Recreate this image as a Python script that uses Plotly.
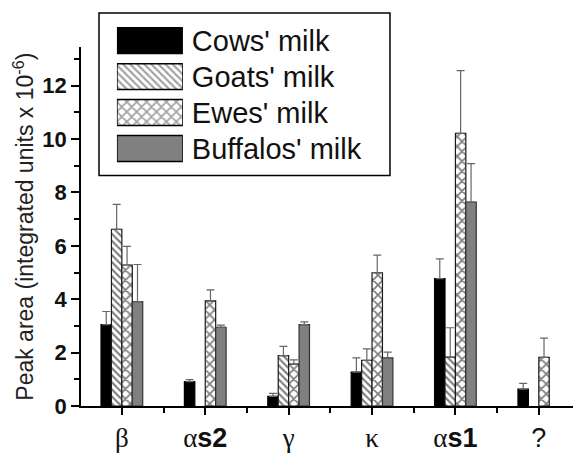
import plotly.graph_objects as go

categories = ["β", "αs2", "γ", "κ", "αs1", "?"]
tick_labels = [
    "β",
    "α<b><span style='font-family:Liberation Sans, Arial'>s2</span></b>",
    "γ",
    "κ",
    "α<b><span style='font-family:Liberation Sans, Arial'>s1</span></b>",
    "<span style='font-family:Liberation Sans, Arial'>?</span>",
]
series_names = ["Cows' milk", "Goats' milk", "Ewes' milk", "Buffalos' milk"]

cows = [3.05, 0.91, 0.36, 1.27, 4.77, 0.63]
cows_err = [0.49, 0.08, 0.11, 0.53, 0.74, 0.22]
goats = [6.62, None, 1.89, 1.71, 1.83, None]
goats_err = [0.93, 0.0, 0.34, 0.43, 1.10, 0.0]
ewes = [5.28, 3.94, 1.57, 4.99, 10.21, 1.82]
ewes_err = [0.70, 0.41, 0.16, 0.66, 2.35, 0.72]
buffalos = [3.91, 2.95, 3.05, 1.80, 7.64, None]
buffalos_err = [1.39, 0.08, 0.10, 0.22, 1.44, 0.0]

fill_colors = ["#000000", "#ffffff", "#ffffff", "#808080"]
patterns = ["", "\\", "x", ""]
pattern_sizes = [6, 5, 7, 6]
line_colors = ["#000000", "#1a1a1a", "#1a1a1a", "#333333"]

values = [cows, goats, ewes, buffalos]
errors = [cows_err, goats_err, ewes_err, buffalos_err]

x_pos = list(range(len(categories)))

fig = go.Figure()
for i, name in enumerate(series_names):
    fig.add_trace(go.Bar(
        x=x_pos, y=values[i], name=name,
        marker=dict(
            color=fill_colors[i],
            line=dict(color=line_colors[i], width=1.2),
            pattern=dict(shape=patterns[i], fgcolor="#000000", bgcolor=fill_colors[i],
                         size=pattern_sizes[i], solidity=0.42, fillmode="overlay"),
        ),
        error_y=dict(type="data", symmetric=False, array=errors[i],
                     arrayminus=[0] * len(categories),
                     color="#666666", thickness=1.2, width=4),
        showlegend=False,
        xaxis="x", yaxis="y",
    ))

# legend swatches drawn as a small inset bar chart
fig.add_trace(go.Bar(
    y=series_names, x=[1, 1, 1, 1], orientation="h", width=0.72,
    marker=dict(
        color=fill_colors,
        line=dict(color="#000000", width=1.5),
        pattern=dict(shape=patterns, fgcolor="#000000", bgcolor=fill_colors,
                     size=pattern_sizes, solidity=0.42, fillmode="overlay"),
    ),
    showlegend=False, hoverinfo="skip",
    xaxis="x2", yaxis="y2",
))

fig.update_layout(
    width=573, height=453,
    margin=dict(l=81, r=0, t=10, b=41),
    paper_bgcolor="white", plot_bgcolor="white",
    barmode="group", bargap=0.5, bargroupgap=0,
    font=dict(family="Liberation Sans, Arial", color="#000000"),
    xaxis=dict(
        range=[-0.49, 5.41], tickmode="array", tickvals=x_pos, ticktext=tick_labels,
        tickfont=dict(family="Liberation Serif, Times New Roman", size=27, color="#111111"),
        ticks="outside", ticklen=7, tickwidth=1.5, tickcolor="#000000",
        minor=dict(ticks="outside", ticklen=5, tickwidth=1.5, dtick=0.5, tick0=0, tickcolor="#000000"),
        showline=True, linecolor="#000000", linewidth=1.5,
        showgrid=False, zeroline=False, anchor="y",
    ),
    yaxis=dict(
        domain=[0, 0.9055], range=[0, 13.43],
        tickmode="linear", tick0=0, dtick=2,
        tickfont=dict(family="Liberation Sans, Arial", size=22, color="#111111"),
        tickprefix="<b>", ticksuffix="</b>",
        ticks="outside", ticklen=8, tickwidth=1.5, tickcolor="#000000",
        minor=dict(ticks="outside", ticklen=5, tickwidth=1.5, dtick=1, tickcolor="#000000"),
        showline=True, linecolor="#000000", linewidth=1.5,
        showgrid=False, zeroline=False, anchor="x",
        title=dict(text="Peak area (integrated units x 10<sup>-6</sup>)",
                   font=dict(family="Liberation Sans, Arial", size=23, color="#222222"),
                   standoff=2),
    ),
    xaxis2=dict(domain=[0.073, 0.207], range=[0, 1], anchor="y2",
                visible=False, fixedrange=True),
    yaxis2=dict(domain=[0.605, 0.968], range=[3.5, -0.5], anchor="x2",
                side="right", showline=False, showgrid=False, zeroline=False,
                ticks="", ticklabelstandoff=8,
                tickfont=dict(family="Liberation Sans, Arial", size=29, color="#111111"),
                categoryorder="array", categoryarray=series_names),
    shapes=[dict(type="rect", xref="paper", yref="paper",
                 x0=0.0366, x1=0.628, y0=0.582, y1=0.9925,
                 line=dict(color="#000000", width=1.5), fillcolor="rgba(0,0,0,0)",
                 layer="below")],
)

fig.write_html("out.html")
